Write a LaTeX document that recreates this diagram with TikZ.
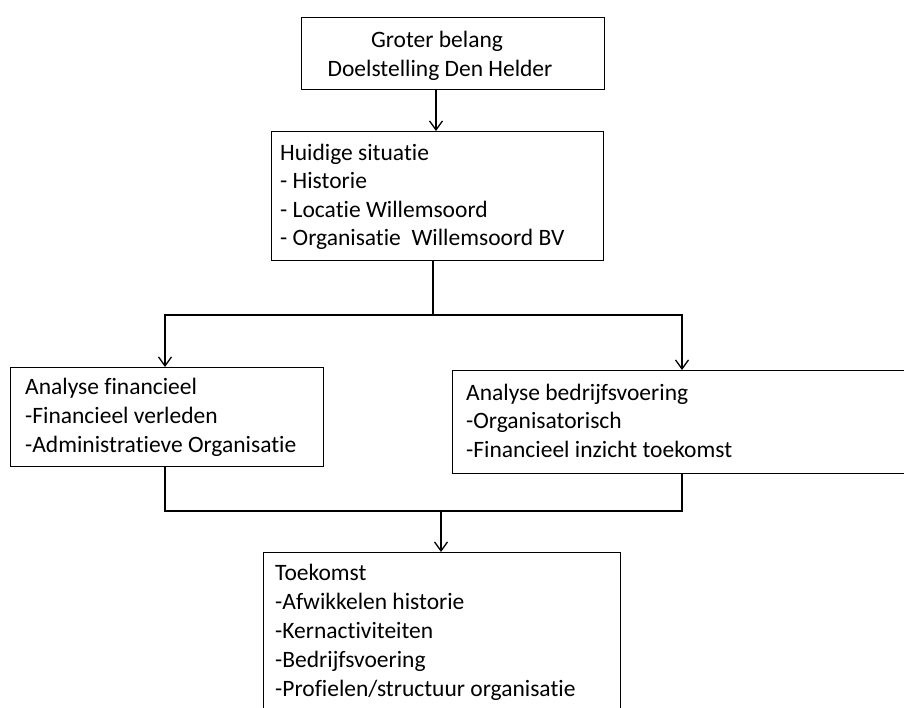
\documentclass[tikz,border=0pt]{standalone}
\usepackage{fontspec}
\setmainfont{Carlito}[Ligatures=NoCommon]
\usetikzlibrary{arrows.meta}
\begin{document}
\begin{tikzpicture}[x=1pt,y=-1pt,
  box/.style={draw=black, line width=1.3pt, inner sep=0pt, anchor=north west},
  txt/.style={anchor=base west, inner sep=0pt, font=\fontsize{23.5}{28}\selectfont},
  ctxt/.style={anchor=base, inner sep=0pt, font=\fontsize{23.5}{28}\selectfont},
  link/.style={draw=black, line width=1.3pt},
  arr/.style={link, -{Straight Barb[length=9pt,width=13pt]}}]
\useasboundingbox (0,0) rectangle (904,707);
\fill[white] (0,0) rectangle (904,707);
\clip (0,0) rectangle (904,707);
% boxes
\node[box, minimum width=303pt, minimum height=72pt] (b1) at (301,17) {};
\node[box, minimum width=332pt, minimum height=129pt] (b2) at (271,131) {};
\node[box, minimum width=313pt, minimum height=99pt] (b3) at (10,367) {};
\node[box, minimum width=470pt, minimum height=103pt] (b4) at (452,370) {};
\node[box, minimum width=357pt, minimum height=180pt] (b5) at (263,552) {};
% texts
\node[ctxt] (t1a) at (437,47) {Groter belang};
\node[ctxt] (t1b) at (440,76) {Doelstelling Den Helder};
\node[txt] (t2a) at (280,160) {Huidige situatie};
\node[txt] (t2b) at (280,188) {- Historie};
\node[txt] (t2c) at (280,217) {- Locatie Willemsoord};
\node[txt] (t2d) at (280,245) {- Organisatie\ \ Willemsoord BV};
\node[txt] (t3a) at (25,394) {Analyse financieel};
\node[txt] (t3b) at (25,423) {-Financieel verleden};
\node[txt] (t3c) at (25,452) {-Administratieve Organisatie};
\node[txt] (t4a) at (466,400) {Analyse bedrijfsvoering};
\node[txt] (t4b) at (466,428) {-Organisatorisch};
\node[txt] (t4c) at (466,457) {-Financieel inzicht toekomst};
\node[txt] (t5a) at (275,580) {Toekomst};
\node[txt] (t5b) at (275,609) {-Afwikkelen historie};
\node[txt] (t5c) at (275,638) {-Kernactiviteiten};
\node[txt] (t5d) at (275,667) {-Bedrijfsvoering};
\node[txt] (t5e) at (275,696) {-Profielen/structuur organisatie};
% connector anchors
\coordinate (a1) at (436,0);
\coordinate (j1) at (433,315);
\coordinate (l3) at (165,0);
\coordinate (l4) at (682,0);
\coordinate (j2) at (441,511);
% connectors
\draw[arr] (b1.south -| a1) -- (b2.north -| a1);
\draw[link] (b2.south -| j1) -- (j1);
\draw[arr] (j1) -| (b3.north -| l3);
\draw[arr] (j1) -| (b4.north -| l4);
\draw[link] (b3.south -| l3) |- (j2);
\draw[link] (b4.south -| l4) |- (j2);
\draw[arr] (j2) -- (b5.north -| j2);
\end{tikzpicture}
\end{document}
